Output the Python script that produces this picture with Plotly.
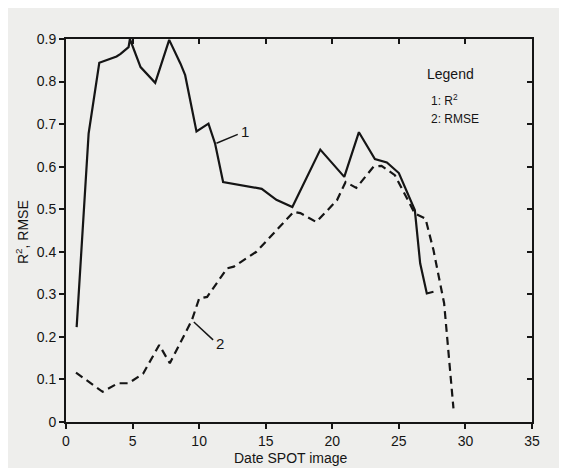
import plotly.graph_objects as go

# R^2 series (curve 1)
r2_x = [0.8, 1.7, 2.5, 3.8, 4.1, 4.7, 4.8, 5.6, 6.7, 7.75, 8.6, 8.95, 9.8, 10.7, 11.2, 11.8, 14.7, 15.8, 17.0, 19.1, 20.9, 22.0, 23.2, 24.1, 25.0, 25.9, 26.2, 26.6, 27.1, 27.6]
r2_y = [0.223, 0.678, 0.844, 0.859, 0.865, 0.881, 0.9, 0.834, 0.797, 0.898, 0.842, 0.815, 0.683, 0.701, 0.654, 0.564, 0.548, 0.522, 0.505, 0.640, 0.576, 0.681, 0.618, 0.610, 0.585, 0.521, 0.498, 0.373, 0.302, 0.306]

# RMSE series (curve 2)
rmse_x = [0.75, 2.75, 3.9, 4.7, 5.8, 7.0, 7.8, 9.45, 10.0, 10.6, 12.1, 12.6, 14.3, 17.1, 17.6, 18.8, 20.35, 21.0, 21.8, 23.1, 23.7, 24.7, 26.2, 27.0, 27.6, 28.1, 28.4, 29.1]
rmse_y = [0.116, 0.071, 0.091, 0.091, 0.114, 0.181, 0.138, 0.239, 0.290, 0.294, 0.361, 0.365, 0.400, 0.494, 0.491, 0.470, 0.521, 0.564, 0.550, 0.600, 0.602, 0.580, 0.490, 0.478, 0.404, 0.326, 0.279, 0.032]

x_ticks = [0, 5, 10, 15, 20, 25, 30, 35]
y_ticks = [0, 0.1, 0.2, 0.3, 0.4, 0.5, 0.6, 0.7, 0.8, 0.9]
y_tick_labels = ["0", "0.1", "0.2", "0.3", "0.4", "0.5", "0.6", "0.7", "0.8", "0.9"]

FONT = "Liberation Sans, Arial, sans-serif"
INK = "#151515"

fig = go.Figure()
fig.add_trace(go.Scatter(x=r2_x, y=r2_y, mode="lines",
                         line=dict(color=INK, width=2.2), name="1: R²", showlegend=False))
fig.add_trace(go.Scatter(x=rmse_x, y=rmse_y, mode="lines",
                         line=dict(color=INK, width=2.2, dash="8px,5px"), name="2: RMSE", showlegend=False))

# leader lines for labels
fig.add_trace(go.Scatter(x=[11.3, 12.9], y=[0.655, 0.676], mode="lines",
                         line=dict(color=INK, width=1.5), showlegend=False, hoverinfo="skip"))
fig.add_trace(go.Scatter(x=[9.6, 11.05], y=[0.235, 0.193], mode="lines",
                         line=dict(color=INK, width=1.5), showlegend=False, hoverinfo="skip"))
# invisible trace to activate mirror axes
fig.add_trace(go.Scatter(x=[0, 35], y=[0, 0.9], mode="markers", marker=dict(opacity=0),
                         xaxis="x2", yaxis="y2", showlegend=False, hoverinfo="skip"))

fig.add_annotation(x=13.45, y=0.682, text="1", showarrow=False, xanchor="center",
                   font=dict(family=FONT, size=15, color=INK))
fig.add_annotation(x=11.6, y=0.185, text="2", showarrow=False, xanchor="center",
                   font=dict(family=FONT, size=15, color=INK))
fig.add_annotation(x=27.0, y=0.818, text="Legend", showarrow=False, xanchor="left",
                   font=dict(family=FONT, size=14, color=INK))
fig.add_annotation(x=27.3, y=0.757, text="1: R<sup>2</sup>", showarrow=False, xanchor="left",
                   font=dict(family=FONT, size=12, color=INK))
fig.add_annotation(x=27.3, y=0.712, text="2: RMSE", showarrow=False, xanchor="left",
                   font=dict(family=FONT, size=12, color=INK))
# axis titles
fig.add_annotation(xref="paper", yref="paper", x=0.483, y=-0.094, text="Date SPOT image",
                   showarrow=False, xanchor="center", yanchor="middle",
                   font=dict(family=FONT, size=14, color=INK))
fig.add_annotation(xref="paper", yref="paper", x=0, xshift=-44, y=0.496, text="R<sup>2</sup>, RMSE",
                   textangle=-90, showarrow=False, xanchor="center", yanchor="middle",
                   font=dict(family=FONT, size=14, color=INK))

axis_common = dict(showgrid=False, zeroline=False, showline=True, linecolor=INK, linewidth=2,
                   tickcolor=INK, tickwidth=2, ticklen=5, automargin=False)

# the page body adds an 8px offset at top/left, so the figure is sized to fit the window
fig.update_layout(
    width=559, height=460,
    margin=dict(l=58, r=35, t=31, b=46),
    paper_bgcolor="#eeeeec",
    plot_bgcolor="rgba(0,0,0,0)",
    font=dict(family=FONT, size=13, color=INK),
    xaxis=dict(range=[0, 35], tickvals=x_ticks, ticks="outside",
               tickfont=dict(family=FONT, size=14, color=INK), **axis_common),
    yaxis=dict(range=[0, 0.9], tickvals=y_ticks, ticktext=y_tick_labels, ticks="outside",
               tickfont=dict(family=FONT, size=14, color=INK), **axis_common),
    xaxis2=dict(range=[0, 35], tickvals=x_ticks, ticks="inside", overlaying="x", side="top",
                showticklabels=False, **axis_common),
    yaxis2=dict(range=[0, 0.9], tickvals=y_ticks, ticks="inside", overlaying="y", side="right",
                showticklabels=False, **axis_common),
)

fig.write_html("out.html")
